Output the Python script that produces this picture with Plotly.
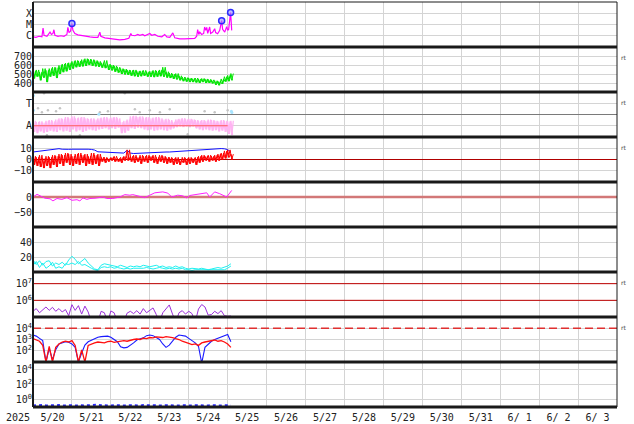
import pandas as pd
import plotly.graph_objects as go
from plotly.subplots import make_subplots

T0 = pd.Timestamp("2025-05-20 00:00")
T_END = pd.Timestamp("2025-06-04 00:00")

# ---------------- tick labels ----------------
day_labels = ["5/20", "5/21", "5/22", "5/23", "5/24", "5/25", "5/26", "5/27",
              "5/28", "5/29", "5/30", "5/31", "6/ 1", "6/ 2", "6/ 3"]
year_label = "2025"

# 2-hour sample hours since 2025-05-20 00:00 (0 .. 122)
grid_hours = list(range(0, 123, 2))

# ---------------- panel 1 : X-ray flux ----------------
xray_hours = [0, 1.8, 3.7, 5.5, 6.2, 6.8, 8.6, 9.8, 10.5, 11.4, 12.3, 12.9, 13.5, 15.4, 17.2,
              19.1, 20.9, 21.5, 22.2, 23.1, 24.0, 24.6, 25.8, 27.7, 30.2, 32.6, 35.1, 37.5,
              40.0, 41.2, 41.8, 44.3, 47.4, 50.5, 53.5, 56.6, 59.1, 60.3, 60.9, 62.8, 64.6,
              65.8, 67.7, 68.9, 70.8, 72.0, 73.2, 75.1, 76.9, 79.4, 81.2, 82.5, 84.3, 86.2,
              87.4, 90.5, 93.5, 96.6, 99.7, 100.9, 101.5, 102.2, 102.8, 104.0, 105.2, 105.8,
              106.5, 107.1, 107.7, 108.9, 109.5, 110.8, 112.0, 112.6, 113.8, 115.1, 116.3,
              116.9, 118.2, 119.4, 120.0, 120.6, 121.8, 122.5]
xray_flux = [8e-7, 7.3e-7, 9e-7, 8e-7, 4.9e-6, 1.1e-6, 9e-7, 1.6e-6, 2.1e-6, 1.3e-6, 1.6e-6,
             3.4e-6, 1.1e-6, 9e-7, 1e-6, 9e-7, 1.3e-6, 5.6e-6, 1.9e-6, 2.5e-6, 1.2e-5, 3e-6,
             1.6e-6, 1.2e-6, 1e-6, 9e-7, 8e-7, 7.3e-7, 7.3e-7, 2.1e-6, 9e-7, 6.5e-7, 5.9e-7,
             5.3e-7, 4.3e-7, 4.8e-7, 5.9e-7, 1.6e-6, 1.1e-6, 1e-6, 1.3e-6, 1.1e-6, 1.3e-6,
             1e-6, 1.3e-6, 1.6e-6, 1.1e-6, 1.3e-6, 9e-7, 8e-7, 1.3e-6, 8e-7, 7.3e-7, 1.8e-6,
             6.5e-7, 5.3e-7, 5.3e-7, 5.3e-7, 5.9e-7, 9e-7, 3.5e-6, 1.3e-6, 2.1e-6, 1.3e-6,
             1.6e-6, 6e-6, 3e-6, 5.6e-6, 1.6e-6, 6e-6, 1.6e-6, 2.1e-6, 4.2e-6, 1.9e-6, 1.5e-6,
             3e-6, 2.2e-5, 3.7e-6, 2.1e-6, 6.5e-6, 3e-6, 3.7e-6, 1.15e-4, 3e-6]
flare_hours = [24.0, 116.3, 121.8]
flare_flux = [1.2e-5, 2.2e-5, 1.15e-4]

# ---------------- panel 2 : solar wind speed (envelope, 2 h) ----------------
speed_hi = [530, 545, 520, 560, 540, 560, 575, 570, 595, 610, 620, 625, 640, 650, 645, 660,
            670, 665, 660, 650, 640, 625, 650, 610, 600, 590, 575, 560, 555, 545, 540, 545,
            530, 535, 540, 525, 530, 540, 535, 545, 575, 525, 510, 500, 505, 480, 465, 460,
            455, 450, 455, 445, 450, 445, 440, 435, 425, 420, 445, 470, 485, 505]
speed_lo = [450, 470, 430, 460, 410, 470, 480, 455, 500, 520, 530, 545, 560, 575, 580, 585,
            590, 600, 590, 585, 580, 570, 565, 545, 540, 525, 515, 500, 495, 490, 480, 475,
            470, 475, 480, 470, 470, 465, 470, 475, 470, 460, 455, 445, 440, 430, 420, 415,
            410, 410, 405, 400, 410, 400, 400, 395, 380, 375, 390, 415, 420, 430]

# ---------------- panel 3 : IMF sector angle (envelope, 2 h) ----------------
phi_hi = [130, 120, 125, 115, 130, 135, 125, 140, 150, 145, 160, 150, 165, 150, 155, 160,
          150, 145, 150, 140, 150, 155, 160, 150, 155, 160, 150, 120, 130, 140, 165, 170,
          160, 165, 155, 160, 150, 155, 160, 150, 140, 145, 135, 120, 140, 145, 150, 140,
          145, 140, 135, 130, 135, 130, 140, 135, 130, 125, 135, 130, 125, 130]
phi_lo = [40, 30, 45, 35, 40, 50, 45, 40, 55, 45, 50, 40, 60, 45, 55, 40,
          50, 60, 55, 50, 60, 65, 70, 60, 70, 65, 75, 30, 35, 50, 70, 65,
          75, 70, 60, 55, 60, 50, 55, 60, 55, 50, 60, 70, 80, 85, 80, 85,
          80, 85, 70, 60, 55, 60, 55, 50, 55, 45, 50, 40, 25, 15]
gray_hours = [3.1, 5.5, 9.2, 14.2, 16.6, 8.6, 28.9, 6.8, 56.6, 41.2, 46.2, 62.8, 65.8, 72.0,
              84.3, 95.4, 78.2, 105.8, 112.0, 120.0]
gray_phi = [230, 198, 214, 206, 230, 14, 14, 350, 350, 198, 206, 222, 198, 214, 222, 22,
            198, 206, 198, 214]
toward_hours = [0.3, 0.3, 40.6, 122.3, 122.6]
toward_phi = [333, 213, 182, 206, 195]

# ---------------- panel 4 : IMF Bt / Bz (nT) ----------------
bt = [7.0, 7.4, 7.8, 7.9, 8.5, 9.2, 9.6, 10.0, 10.1, 9.6, 9.2, 9.5, 9.6, 9.7, 9.9, 9.9,
      9.8, 9.6, 9.4, 8.8, 7.2, 7.0, 6.8, 6.5, 6.4, 6.2, 5.8, 5.5, 6.0, 8.6, 6.0, 5.6,
      5.8, 6.0, 6.2, 6.3, 6.3, 6.4, 6.6, 6.8, 6.8, 7.0, 7.0, 7.2, 7.4, 7.4, 7.6, 7.8,
      8.0, 8.4, 8.6, 8.8, 9.2, 9.6, 9.6, 9.8, 10.0, 10.2, 10.2, 10.0, 9.2, 7.0]
bz_hi = [3, 2, 4, 1, 3, 2, 4, 3, 5, 4, 6, 5, 3, 5, 6, 4, 5, 3, 6, 4, 5, 2, 2, 1, 2, 3, 1, 2,
         3, 9, 3, 4, 2, 4, 3, 4, 3, 4, 2, 4, 3, 2, 2, 1, 2, 0, 2, 1, 2, 1, 2, 3, 4, 3, 4, 3,
         4, 5, 6, 8, 9, 5]
bz_lo = [-5, -6, -7, -8, -6, -8, -5, -7, -4, -6, -3, -5, -6, -4, -5, -3, -6, -4, -5, -4, -6,
         -2, -3, -2, -1, -2, -2, -3, -1, -1, -2, -3, -2, -4, -2, -3, -1, -3, -4, -2, -3, -4,
         -3, -5, -4, -5, -3, -5, -4, -3, -5, -3, -2, -1, -2, -1, -2, -1, 0, 1, 2, 0]

# ---------------- panel 5 : Dst (nT) ----------------
dst_hours = [0, 2.5, 7.4, 10.5, 12.3, 14.8, 17.8, 20.9, 24.0, 27.1, 28.9, 30.8, 33.2, 35.1,
             38.2, 41.2, 43.1, 45.5, 49.2, 53.5, 56.6, 59.7, 61.5, 65.8, 68.9, 72.0, 75.1,
             80.0, 83.1, 85.5, 89.2, 92.3, 94.8, 96.6, 100.9, 107.1, 108.9, 112.0, 115.1,
             119.4, 122.5]
dst = [0, 9, -4, -6, -13, -5, -8, -2, -11, -9, -13, -3, -8, -5, -4, -3, 0, -5, -5, 0, 8, 6,
       8, 2, -2, 6, 14, 17, 13, 0, 6, 4, -3, 5, 9, 14, 0, 17, 11, 0, 22]

# ---------------- panel 6 : two cyan indices ----------------
cyan_a = [16, 10, 15, 9, 14, 15, 8, 12, 10, 13, 9, 16, 21, 17, 11, 15, 18, 12, 8, 4, 3, 9,
          11, 10, 9, 8, 7, 9, 7, 6, 8, 7, 8, 7, 9, 8, 7, 8, 9, 7, 8, 6, 7, 6, 8, 6, 7, 5,
          4, 5, 4, 4, 5, 4, 3, 4, 5, 6, 5, 6, 8, 11]
cyan_b = [9, 14, 6, 12, 5, 8, 13, 5, 7, 5, 11, 10, 12, 10, 14, 9, 10, 7, 5, 3, 2, 6, 7, 6,
          7, 5, 6, 5, 4, 5, 4, 5, 5, 4, 5, 6, 5, 4, 5, 6, 5, 4, 5, 4, 5, 4, 5, 3, 3, 2, 3,
          3, 2, 3, 2, 3, 3, 2, 3, 3, 5, 8]

# ---------------- panel 7 : electron flux ----------------
electron = [2.2e5, 3.2e5, 1.8e5, 2.8e5, 4.0e5, 2.5e5, 3.8e5, 2.2e5, 3.2e5, 2.0e5, 2.8e5,
            1.2e5, 5.5e5, 2.5e5, 4.8e5, 1.5e5, 4.5e5, 2.0e5, 5e4, 5e4, 5e4, 2.2e5, 1.8e5,
            5e4, 2.3e5, 1.8e5, 5e4, 5e4, 5e4, 1.7e5, 2.2e5, 1.6e5, 2.4e5, 1.5e5, 3.2e5,
            1.8e5, 2.6e5, 3.5e5, 1.4e5, 5e4, 1.8e5, 3.0e5, 5.3e5, 1.5e5, 5e4, 1.8e5, 2.4e5,
            1.5e5, 2.2e5, 1.6e5, 5e4, 3.0e5, 5.6e5, 4.0e5, 1.3e5, 1.4e5, 2.2e5, 1.6e5,
            2.4e5, 1.2e5, 1.1e5, 1.15e5]

# ---------------- panel 8 : proton flux ----------------
proton_blue = [2500, 2000, 1260, 800, 10, 160, 16, 125, 400, 500, 630, 560, 400, 200, 10, 63,
               316, 630, 900, 1260, 1600, 1800, 2000, 2000, 1600, 1000, 630, 220, 180, 200,
               300, 500, 900, 1100, 1400, 2200, 2500, 2200, 1600, 1000, 400, 200, 316, 800,
               1600, 2500, 2200, 2000, 1260, 800, 500, 250, 8, 200, 400, 700, 1000, 1260,
               1600, 2200, 2800, 630]
proton_red = [1200, 900, 700, 300, 10, 250, 10, 200, 400, 600, 700, 600, 800, 300, 10, 120,
              10, 300, 400, 500, 600, 550, 500, 650, 700, 550, 600, 700, 800, 700, 900, 1000,
              1100, 1000, 1300, 1200, 1500, 1400, 1700, 1600, 1500, 1800, 1700, 1500, 1200,
              1000, 700, 600, 450, 350, 400, 300, 500, 600, 700, 800, 900, 700, 800, 600, 400,
              200]

# ---------------- panel 9 : low-energy flux ----------------
bottom_flux = [0.16, 0.17, 0.16, 0.18, 0.16, 0.17, 0.16, 0.17, 0.18, 0.16, 0.17, 0.16, 0.17,
               0.16, 0.18, 0.17, 0.16, 0.17, 0.16, 0.17, 0.2, 0.17, 0.16, 0.17, 0.16, 0.17,
               0.16, 0.18, 0.17, 0.16, 0.17, 0.16, 0.17, 0.16, 0.18, 0.17, 0.2, 0.17, 0.16,
               0.17, 0.16, 0.17, 0.16, 0.18, 0.17, 0.16, 0.17, 0.16, 0.17, 0.16, 0.17, 0.16,
               0.18, 0.17, 0.16, 0.17, 0.16, 0.17, 0.16, 0.17, 0.16, 0.17]


def at(hours):
    return [T0 + pd.Timedelta(hours=h) for h in hours]


def crosshatch(hours, hi, lo):
    xa, ya, xb, yb = [], [], [], []
    for h, a, b in zip(hours, hi, lo):
        xa += [h, h + 1]
        ya += [a, b]
        xb += [h + 0.5, h + 1.5]
        yb += [b, a]
    return (at(xa), ya), (at(xb), yb)


FULL = [T0, T_END]
FONT = dict(family="DejaVu Sans Mono", size=10, color="#222")
YFONT = dict(family="DejaVu Sans Mono", size=10, color="#222")
GRID = "#d4d4d4"

fig = make_subplots(rows=9, cols=1, shared_xaxes=True, vertical_spacing=0)

def line(x, y, color, row, width=1.0, dash=None):
    fig.add_trace(go.Scatter(x=x, y=y, mode="lines", showlegend=False, hoverinfo="skip",
                             line=dict(color=color, width=width, dash=dash)), row=row, col=1)

def dots(x, y, color, row, size=2.5):
    fig.add_trace(go.Scatter(x=x, y=y, mode="markers", showlegend=False, hoverinfo="skip",
                             marker=dict(color=color, size=size)), row=row, col=1)

def band(hi, lo, color, row, width=1.0):
    for xs, ys in crosshatch(grid_hours, hi, lo):
        line(xs, ys, color, row, width)

# panel 1
line(at(xray_hours), xray_flux, "#ff00ff", 1, 1.2)
fig.add_trace(go.Scatter(x=at(flare_hours), y=flare_flux, mode="markers", showlegend=False,
                         hoverinfo="skip",
                         marker=dict(symbol="circle", size=6, color="rgba(140,140,255,0.55)",
                                     line=dict(color="#2a2aff", width=1.5))), row=1, col=1)
# panel 2
band(speed_hi, speed_lo, "#00e600", 2, 1.0)
# panel 3
line(FULL, [180, 180], "#7a7a7a", 3, 1.2)
dots(at(gray_hours), gray_phi, "#c4c4c4", 3)
band(phi_hi, phi_lo, "#ffb4f2", 3, 1.3)
dots(at(toward_hours), toward_phi, "#a8e4ff", 3, 3)
line([T0, pd.Timestamp("2025-05-25 00:00")], [90, 90], "#ff5a5a", 3, 1.2)
# panel 4
line(FULL, [0, 0], "#b00000", 4, 1.0)
line(at(grid_hours), bt, "#1010ff", 4, 1.0)
band(bz_hi, bz_lo, "#ff0000", 4, 1.0)
# panel 5
line(FULL, [0, 0], "#d27878", 5, 2.5)
line(at(dst_hours), dst, "#ff20ff", 5, 1.0)
# panel 6
line(at(grid_hours), cyan_a, "#1ef0f0", 6, 1.0)
line(at(grid_hours), cyan_b, "#1ef0f0", 6, 1.0)
# panel 7
line(FULL, [1e7, 1e7], "#c00000", 7, 1.0)
line(FULL, [1e6, 1e6], "#c00000", 7, 1.0)
line(at(grid_hours), electron, "#9b30d9", 7, 1.0)
# panel 8
line(FULL, [1e4, 1e4], "#e03030", 8, 1.3, "8px,4px")
line(at(grid_hours), proton_blue, "#1a1aff", 8, 1.1)
line(at(grid_hours), proton_red, "#ff1010", 8, 1.3)
# panel 9
line(at(grid_hours), bottom_flux, "#2a2aff", 9, 2.0, "dot")

# ---------------- axes ----------------
noon = [T0 + pd.Timedelta(hours=12 + 24 * i) for i in range(len(day_labels))]
for r in range(1, 10):
    fig.update_xaxes(row=r, col=1, range=FULL, tickvals=noon, ticktext=day_labels,
                     showticklabels=(r == 9), ticks="", showgrid=False, zeroline=False,
                     showline=False, tickfont=FONT, automargin=False, ticklabelstandoff=3,
                     minor=dict(dtick=86400000, tick0=T0, showgrid=True, gridcolor=GRID,
                                gridwidth=1, ticks=""))

yspec = {
    1: dict(type="log", range=[-7, -3], tickvals=[1e-6, 1e-5, 1e-4], ticktext=["C", "M", "X"]),
    2: dict(range=[300, 800], tickvals=[400, 500, 600, 700], ticktext=["400", "500", "600", "700"]),
    3: dict(range=[0, 360], tickvals=[90, 270], ticktext=["A", "T"]),
    4: dict(range=[-21, 21], tickvals=[-10, 0, 10], ticktext=["\u221210", "0", "10"]),
    5: dict(range=[-100, 50], tickvals=[-50, 0], ticktext=["\u221250", "0"]),
    6: dict(range=[0, 60], tickvals=[20, 40], ticktext=["20", "40"]),
    7: dict(type="log", range=[5, 7.7], tickvals=[1e6, 1e7],
            ticktext=["10<sup>6</sup>", "10<sup>7</sup>"]),
    8: dict(type="log", range=[1, 5], tickvals=[1e2, 1e3, 1e4],
            ticktext=["10<sup>2</sup>", "10<sup>3</sup>", "10<sup>4</sup>"]),
    9: dict(type="log", range=[-1, 5], tickvals=[1, 1e2, 1e4],
            ticktext=["10<sup>0</sup>", "10<sup>2</sup>", "10<sup>4</sup>"]),
}
for r, spec in yspec.items():
    fig.update_yaxes(row=r, col=1, showgrid=True, gridcolor=GRID, gridwidth=1, zeroline=False,
                     ticks="", showline=False, tickfont=YFONT, fixedrange=True,
                     automargin=False, **spec)

# ---------------- frame ----------------
shapes = []
for k in range(0, 9):
    shapes.append(dict(type="line", xref="paper", yref="paper", x0=0, x1=1, y0=k / 9, y1=k / 9,
                       line=dict(color="#1a1a1a", width=3)))
shapes.append(dict(type="line", xref="paper", yref="paper", x0=0, x1=1, y0=1, y1=1,
                   line=dict(color="#1a1a1a", width=1)))
shapes.append(dict(type="line", xref="paper", yref="paper", x0=0, x1=0, y0=0, y1=1,
                   line=dict(color="#1a1a1a", width=2)))
shapes.append(dict(type="line", xref="paper", yref="paper", x0=1, x1=1, y0=0, y1=1,
                   line=dict(color="#1a1a1a", width=1)))

annotations = [dict(text=year_label, xref="paper", yref="paper", x=-0.025, y=0, xanchor="center",
                    yanchor="top", yshift=-3, showarrow=False, font=FONT)]
for row in [2, 3, 4, 7, 8]:
    top = (9 - row + 1) / 9
    annotations.append(dict(text="rt", xref="paper", yref="paper", x=1.004, y=top,
                            xanchor="left", yanchor="middle", yshift=-10, showarrow=False,
                            font=dict(family="DejaVu Sans", size=6, color="#444")))

fig.update_layout(width=634, height=424, margin=dict(l=33, r=17, t=2, b=17, autoexpand=False),
                  paper_bgcolor="white", plot_bgcolor="white", showlegend=False,
                  hovermode=False, shapes=shapes, annotations=annotations)

fig.write_html("out.html", config={"displayModeBar": False, "staticPlot": True},
               post_script="document.body.style.margin='0';document.body.style.padding='0';")
